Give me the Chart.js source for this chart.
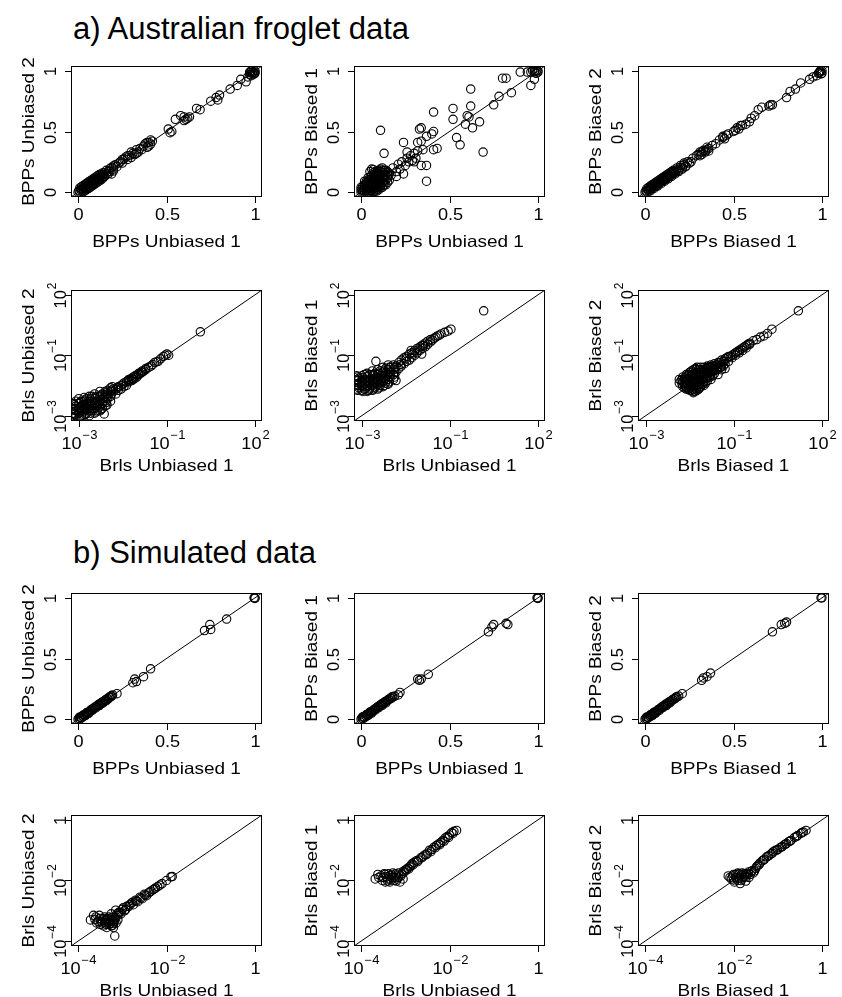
<!DOCTYPE html>
<html>
<head>
<meta charset="utf-8">
<script src="https://cdn.jsdelivr.net/npm/chart.js@4.4.1/dist/chart.umd.min.js"></script>
<style>
html, body { margin: 0; padding: 0; background: #fff; overflow: hidden; }
body { width: 842px; height: 997px; position: relative; }
canvas { position: absolute; }
.title { position: absolute; left: 73px; font-family: "Liberation Sans", Arial, sans-serif; font-size: 31px; line-height: 1; white-space: nowrap; color: #000; }
</style>
</head>
<body>
<div class="title" style="top: 13px;">a) Australian froglet data</div>
<div class="title" style="top: 537px;">b) Simulated data</div>
<script>
// Tick values and labels.
var linTicks = [ 0, 0.5, 1 ];
var linLabels = [ '0', '0.5', '1' ];
var logTicksA = [ 0.001, 0.316, 100 ];
var logLabelsA = [ [ '10', '−3' ], [ '10', '−1' ], [ '10', '2' ] ];
var logTicksB = [ 0.0001, 0.01, 1 ];
var logLabelsB = [ [ '10', '−4' ], [ '10', '−2' ], [ '1', '' ] ];
var linRange = [ -0.04, 1.04 ];
var logRangeA = [ 0.000631, 158.5 ];
var logRangeB = [ 0.0000692, 1.445 ];

// a) Australian froglet, BPPs (plain values).
var a1 = [
	[0,0],[0.005,0.012],[0.01,0],[0.015,0.022],[0.02,0.008],[0.025,0.03],[0.03,0.018],[0.035,0.042],[0.04,0.028],[0.045,0.052],
	[0.05,0.038],[0.055,0.062],[0.06,0.048],[0.065,0.072],[0.07,0.058],[0.075,0.082],[0.08,0.068],[0.085,0.092],[0.09,0.078],[0.095,0.1],
	[0.1,0.088],[0.105,0.112],[0.11,0.098],[0.115,0.12],[0.12,0.108],[0.125,0.132],[0.13,0.118],[0.14,0.142],[0.145,0.128],[0.15,0.158],
	[0.16,0.148],[0.17,0.172],[0.18,0.17],[0.19,0.15],[0.19,0.205],[0.2,0.19],[0.21,0.225],[0.22,0.21],
	[0.01,0.035],[0.02,0.045],[0.03,0.055],[0.04,0.065],[0.05,0.075],[0.06,0.085],[0.07,0.095],[0.08,0.105],[0.09,0.115],[0.1,0.125],
	[0.11,0.135],[0.12,0.145],[0.13,0.15],[0.14,0.16],[0.16,0.18],[0.18,0.195],[0.2,0.215],[0.03,0.005],[0.04,0.012],[0.05,0.022],
	[0.06,0.032],[0.07,0.042],[0.08,0.052],[0.09,0.062],[0.1,0.072],[0.11,0.082],[0.12,0.092],[0.13,0.102],[0.14,0.115],[0.15,0.13],
	[0.17,0.15],[0.2,0.175],
	[0.23,0.24],[0.24,0.25],[0.25,0.24],[0.25,0.27],[0.26,0.275],[0.27,0.29],[0.28,0.27],[0.28,0.3],[0.29,0.3],[0.3,0.285],[0.3,0.33],
	[0.31,0.32],[0.32,0.31],[0.33,0.35],[0.33,0.32],[0.34,0.33],[0.35,0.36],[0.36,0.35],[0.37,0.38],[0.38,0.4],[0.39,0.37],[0.39,0.41],
	[0.4,0.41],[0.4,0.38],[0.41,0.395],[0.41,0.43],[0.42,0.42],
	[0.51,0.52],[0.53,0.5],[0.52,0.49],[0.55,0.6],[0.58,0.63],[0.6,0.62],[0.61,0.6],[0.62,0.61],[0.63,0.62],[0.6,0.59],[0.69,0.68],[0.67,0.69],
	[0.75,0.75],[0.78,0.78],[0.8,0.8],[0.79,0.76],[0.86,0.85],[0.9,0.88],[0.92,0.93],[0.95,0.91],[0.96,0.95],[0.97,0.97],
	[0.98,0.96],[0.99,0.99],[1,1],[0.98,1],[1,0.98],[0.99,0.97],[0.97,0.99],[1,0.99],[0.985,0.985],[0.995,0.975],[0.975,0.985]
];
var a2 = [
	[0,0],[0,0.02],[0,0.04],[0.02,0],[0.02,0.03],[0.02,0.06],[0.02,0.09],
	[0.04,0],[0.04,0.03],[0.04,0.06],[0.04,0.09],[0.04,0.12],
	[0.06,0.01],[0.06,0.04],[0.06,0.07],[0.06,0.1],[0.06,0.14],[0.06,0.19],
	[0.08,0.01],[0.08,0.04],[0.08,0.07],[0.08,0.1],[0.08,0.13],[0.08,0.17],
	[0.1,0.02],[0.1,0.05],[0.1,0.08],[0.1,0.11],[0.1,0.14],[0.1,0.18],
	[0.12,0.04],[0.12,0.08],[0.12,0.12],[0.12,0.16],[0.12,0.2],
	[0.14,0.06],[0.14,0.1],[0.14,0.14],[0.14,0.18],[0.16,0.1],[0.16,0.15],
	[0.01,0.015],[0.01,0.035],[0.03,0.015],[0.03,0.045],[0.03,0.075],[0.05,0.015],[0.05,0.045],[0.05,0.075],[0.05,0.105],
	[0.07,0.025],[0.07,0.055],[0.07,0.085],[0.07,0.12],[0.07,0.16],[0.09,0.025],[0.09,0.055],[0.09,0.085],[0.09,0.12],[0.09,0.155],
	[0.11,0.035],[0.11,0.065],[0.11,0.095],[0.11,0.13],[0.11,0.17],[0.13,0.06],[0.13,0.1],[0.13,0.14],[0.13,0.18],
	[0.15,0.08],[0.15,0.12],[0.15,0.16],
	[0.01,0],[0.03,0],[0.05,0],[0.07,0.005],[0.09,0.01],[0.03,0.03],[0.05,0.03],[0.07,0.04],[0.09,0.04],[0.11,0.05],
	[0.01,0.05],[0.03,0.06],[0.05,0.06],[0.07,0.07],[0.09,0.07],[0.11,0.08],[0.13,0.08],[0.03,0.09],[0.05,0.09],[0.07,0.1],
	[0.09,0.1],[0.11,0.11],[0.13,0.12],[0.05,0.12],[0.07,0.13],[0.09,0.135],[0.11,0.145],[0.13,0.16],[0.07,0.145],[0.09,0.17],
	[0.11,0.19],[0.15,0.14],[0.05,0.17],[0.07,0.185],
	[0.15,0.17],[0.17,0.14],[0.18,0.2],[0.2,0.17],[0.21,0.23],[0.22,0.19],[0.23,0.25],[0.25,0.22],[0.26,0.28],[0.27,0.25],
	[0.28,0.3],[0.29,0.26],[0.3,0.32],[0.31,0.28],[0.32,0.34],[0.3,0.25],[0.2,0.13],[0.26,0.33],
	[0.11,0.51],[0.13,0.32],[0.24,0.41],[0.24,0.15],[0.32,0.41],[0.34,0.42],[0.33,0.52],[0.34,0.53],[0.35,0.35],
	[0.37,0.46],[0.41,0.5],[0.4,0.48],[0.43,0.36],[0.41,0.35],[0.37,0.22],[0.34,0.22],[0.37,0.09],[0.41,0.66],
	[0.52,0.69],[0.52,0.6],[0.54,0.45],[0.56,0.39],[0.59,0.56],[0.6,0.63],[0.61,0.62],[0.62,0.85],[0.62,0.71],[0.63,0.53],
	[0.67,0.58],[0.69,0.33],[0.75,0.72],[0.78,0.79],[0.85,0.82],[0.8,0.94],[0.82,0.94],[0.9,0.99],[0.94,0.99],[0.96,0.88],
	[0.98,0.93],[0.97,1],[0.98,0.99],[0.99,1],[1,1],[0.99,0.98],[1,0.99],[0.98,1],[0.96,0.99]
];
var a3 = [
	[0,0],[0.005,0.012],[0.01,0.002],[0.015,0.02],[0.02,0.01],[0.025,0.032],[0.03,0.02],[0.035,0.04],[0.04,0.03],[0.045,0.05],
	[0.05,0.042],[0.055,0.062],[0.06,0.05],[0.065,0.07],[0.07,0.06],[0.075,0.082],[0.08,0.072],[0.085,0.09],[0.09,0.082],[0.095,0.1],
	[0.1,0.092],[0.105,0.11],[0.11,0.1],[0.115,0.12],[0.12,0.11],[0.125,0.13],[0.13,0.122],[0.135,0.14],[0.14,0.132],[0.145,0.15],
	[0.15,0.14],[0.155,0.162],[0.16,0.152],[0.165,0.17],[0.17,0.16],[0.18,0.185],[0.19,0.18],[0.2,0.205],[0.21,0.2],[0.22,0.225],
	[0.23,0.215],[0.24,0.25],[0.25,0.24],
	[0.01,0.03],[0.02,0.04],[0.03,0.05],[0.04,0.06],[0.05,0.07],[0.06,0.08],[0.07,0.09],[0.08,0.1],[0.09,0.11],[0.1,0.12],
	[0.11,0.13],[0.12,0.14],[0.13,0.15],[0.14,0.16],[0.15,0.17],[0.16,0.18],[0.18,0.2],[0.2,0.22],[0.22,0.24],[0.03,0.01],
	[0.05,0.03],[0.07,0.05],[0.09,0.07],[0.11,0.09],[0.13,0.11],[0.15,0.13],[0.17,0.15],[0.19,0.17],[0.21,0.19],[0.23,0.21],
	[0.26,0.25],[0.27,0.28],[0.29,0.3],[0.3,0.31],[0.31,0.3],[0.31,0.33],[0.32,0.33],[0.32,0.31],[0.33,0.345],[0.34,0.33],
	[0.34,0.34],[0.35,0.35],[0.35,0.37],[0.36,0.34],[0.36,0.36],[0.38,0.385],[0.4,0.4],
	[0.42,0.43],[0.44,0.45],[0.44,0.46],[0.45,0.44],[0.46,0.47],[0.47,0.48],[0.5,0.5],[0.51,0.51],[0.52,0.53],[0.53,0.52],
	[0.54,0.55],[0.55,0.55],[0.57,0.56],[0.59,0.58],[0.6,0.61],[0.62,0.63],[0.64,0.68],[0.66,0.7],[0.7,0.71],[0.71,0.72],
	[0.72,0.72],[0.8,0.78],[0.82,0.83],[0.85,0.85],[0.88,0.9],[0.93,0.93],[0.95,0.95],[0.97,0.96],[0.98,0.98],[0.99,0.99],
	[1,1],[1,0.98],[0.99,1],[0.985,0.985],[0.995,0.975]
];

// a) Australian froglet, Brls (log10 values read off the axes).
var a4 = [
	[-3.15,-3.1],[-3.15,-2.9],[-3.15,-2.7],[-3.15,-2.5],
	[-3.0,-3.1],[-3.0,-2.9],[-3.0,-2.7],[-3.0,-2.5],[-3.0,-2.3],
	[-2.85,-3.0],[-2.85,-2.8],[-2.85,-2.6],[-2.85,-2.4],[-2.85,-2.25],
	[-2.7,-3.0],[-2.7,-2.8],[-2.7,-2.6],[-2.7,-2.4],[-2.7,-2.2],
	[-2.55,-2.9],[-2.55,-2.7],[-2.55,-2.5],[-2.55,-2.3],[-2.55,-2.1],
	[-2.4,-2.8],[-2.4,-2.6],[-2.4,-2.4],[-2.4,-2.2],[-2.4,-2.0],
	[-2.25,-2.6],[-2.25,-2.4],[-2.25,-2.2],[-2.25,-2.0],
	[-2.1,-2.4],[-2.1,-2.2],[-2.1,-2.0],[-2.1,-1.85],
	[-3.08,-3.0],[-3.08,-2.8],[-3.08,-2.6],[-3.08,-2.4],[-2.93,-3.0],[-2.93,-2.8],[-2.93,-2.6],[-2.93,-2.4],
	[-2.78,-2.9],[-2.78,-2.7],[-2.78,-2.5],[-2.78,-2.3],[-2.63,-2.8],[-2.63,-2.6],[-2.63,-2.4],[-2.63,-2.2],
	[-2.48,-2.8],[-2.48,-2.6],[-2.48,-2.4],[-2.48,-2.2],[-2.33,-2.7],[-2.33,-2.5],[-2.33,-2.3],[-2.33,-2.1],
	[-2.18,-2.3],[-2.18,-2.1],[-2.18,-1.95],
	[-3.12,-2.95],[-3.12,-2.75],[-3.12,-2.55],[-2.97,-3.05],[-2.97,-2.85],[-2.97,-2.65],[-2.97,-2.45],
	[-2.82,-2.95],[-2.82,-2.75],[-2.82,-2.55],[-2.82,-2.35],[-2.67,-2.9],[-2.67,-2.7],[-2.67,-2.5],[-2.67,-2.3],
	[-2.52,-2.85],[-2.52,-2.65],[-2.52,-2.45],[-2.52,-2.25],[-2.37,-2.75],[-2.37,-2.55],[-2.37,-2.35],[-2.37,-2.15],
	[-2.22,-2.45],[-2.22,-2.25],[-2.22,-2.05],[-2.07,-2.1],[-2.07,-1.95],
	[-2.28,-2.93],[-2.2,-2.55],[-2.05,-1.8],
	[-2.02,-2.0],[-2.02,-1.9],[-1.95,-2.1],[-1.95,-1.9],[-1.9,-1.85],[-1.88,-1.95],[-1.88,-1.8],[-1.8,-1.9],[-1.8,-1.75],[-1.75,-1.7],
	[-1.72,-1.8],[-1.72,-1.65],[-1.65,-1.75],[-1.65,-1.6],[-1.6,-1.55],[-1.58,-1.6],[-1.58,-1.5],[-1.5,-1.55],[-1.5,-1.45],
	[-1.48,-1.48],[-1.45,-1.5],[-1.45,-1.4],[-1.4,-1.45],[-1.4,-1.35],[-1.35,-1.4],[-1.35,-1.32],[-1.3,-1.3],[-1.3,-1.25],
	[-1.25,-1.25],[-1.22,-1.2],[-1.2,-1.2],[-1.2,-1.15],[-1.15,-1.15],
	[-1.1,-1.1],[-1.1,-1.05],[-1.02,-1.0],[-0.95,-0.95],[-0.9,-0.88],[-0.85,-0.8],[-0.8,-0.78],[-0.75,-0.75],[-0.68,-0.65],
	[-0.6,-0.55],[-0.55,-0.5],[-0.5,-0.45],[-0.45,-0.5],
	[0.45,0.47]
];
var a5 = [
	[-3.15,-1.9],[-3.15,-1.7],[-3.15,-1.5],[-3.15,-1.35],
	[-3.0,-1.95],[-3.0,-1.75],[-3.0,-1.55],[-3.0,-1.35],
	[-2.85,-2.0],[-2.85,-1.8],[-2.85,-1.6],[-2.85,-1.4],[-2.85,-1.25],
	[-2.7,-1.95],[-2.7,-1.75],[-2.7,-1.55],[-2.7,-1.35],[-2.7,-1.15],
	[-2.55,-1.9],[-2.55,-1.7],[-2.55,-1.5],[-2.55,-1.3],[-2.55,-1.1],
	[-2.4,-1.8],[-2.4,-1.6],[-2.4,-1.4],[-2.4,-1.2],[-2.4,-1.0],
	[-2.25,-1.7],[-2.25,-1.5],[-2.25,-1.3],[-2.25,-1.1],[-2.25,-0.9],
	[-2.1,-1.5],[-2.1,-1.3],[-2.1,-1.1],[-2.1,-0.9],
	[-3.08,-1.85],[-3.08,-1.65],[-3.08,-1.45],[-2.93,-1.9],[-2.93,-1.7],[-2.93,-1.5],[-2.93,-1.3],
	[-2.78,-1.9],[-2.78,-1.7],[-2.78,-1.5],[-2.78,-1.3],[-2.63,-1.85],[-2.63,-1.65],[-2.63,-1.45],[-2.63,-1.25],
	[-2.48,-1.75],[-2.48,-1.55],[-2.48,-1.35],[-2.48,-1.15],[-2.33,-1.65],[-2.33,-1.45],[-2.33,-1.25],[-2.33,-1.05],
	[-2.18,-1.4],[-2.18,-1.2],[-2.18,-1.0],
	[-3.12,-1.95],[-3.12,-1.75],[-3.12,-1.55],[-3.12,-1.4],[-2.97,-2.0],[-2.97,-1.8],[-2.97,-1.6],[-2.97,-1.42],
	[-2.82,-1.95],[-2.82,-1.75],[-2.82,-1.55],[-2.82,-1.35],[-2.67,-1.9],[-2.67,-1.7],[-2.67,-1.5],[-2.67,-1.3],
	[-2.52,-1.85],[-2.52,-1.65],[-2.52,-1.45],[-2.52,-1.25],[-2.37,-1.75],[-2.37,-1.55],[-2.37,-1.35],[-2.37,-1.15],
	[-2.22,-1.6],[-2.22,-1.4],[-2.22,-1.2],[-2.22,-1.0],[-2.07,-1.4],[-2.07,-1.2],[-2.07,-1.0],
	[-2.6,-0.75],[-2.03,-1.55],[-2.27,-1.68],
	[-2.03,-1.2],[-2.03,-0.95],[-1.95,-1.05],[-1.95,-0.8],[-1.9,-0.88],[-1.88,-0.95],[-1.88,-0.7],[-1.8,-0.85],[-1.8,-0.6],[-1.75,-0.65],
	[-1.73,-0.75],[-1.73,-0.55],[-1.65,-0.7],[-1.65,-0.45],[-1.58,-0.6],[-1.58,-0.4],[-1.55,-0.45],[-1.5,-0.5],[-1.5,-0.3],
	[-1.43,-0.4],[-1.43,-0.22],[-1.4,-0.28],[-1.35,-0.3],[-1.35,-0.15],[-1.28,-0.22],[-1.28,-0.08],[-1.25,-0.1],[-1.2,-0.15],[-1.2,0.0],
	[-1.13,-0.05],[-1.13,0.08],[-1.05,0.05],[-1.05,0.15],
	[-1.6,-0.3],[-1.3,-0.45],[-1.0,0.12],[-0.9,0.25],[-0.8,0.33],
	[-0.95,0.2],[-0.85,0.3],[-0.75,0.38],[-0.65,0.45],[-0.55,0.5],[-0.47,0.58],
	[0.46,1.34]
];
var a6 = [
	[-2.05,-1.5],[-2.05,-1.65],
	[-1.95,-1.4],[-1.95,-1.6],[-1.95,-1.8],
	[-1.85,-1.3],[-1.85,-1.5],[-1.85,-1.7],[-1.85,-1.9],
	[-1.75,-1.2],[-1.75,-1.4],[-1.75,-1.6],[-1.75,-1.8],[-1.75,-1.95],
	[-1.65,-1.1],[-1.65,-1.3],[-1.65,-1.5],[-1.65,-1.7],[-1.65,-1.9],[-1.65,-2.05],
	[-1.55,-1.0],[-1.55,-1.2],[-1.55,-1.4],[-1.55,-1.6],[-1.55,-1.8],[-1.55,-1.95],
	[-1.45,-1.0],[-1.45,-1.2],[-1.45,-1.4],[-1.45,-1.6],[-1.45,-1.8],
	[-1.35,-1.0],[-1.35,-1.2],[-1.35,-1.4],[-1.35,-1.6],[-1.35,-1.75],
	[-1.25,-0.95],[-1.25,-1.15],[-1.25,-1.35],[-1.25,-1.55],
	[-1.15,-0.9],[-1.15,-1.1],[-1.15,-1.3],[-1.15,-1.5],
	[-1.05,-0.85],[-1.05,-1.05],[-1.05,-1.25],
	[-0.95,-0.8],[-0.95,-1.0],[-0.95,-1.3],
	[-0.85,-0.7],[-0.85,-0.9],[-0.85,-1.1],
	[-0.75,-0.65],[-0.75,-0.85],[-0.75,-1.05],
	[-2.0,-1.55],[-1.9,-1.45],[-1.9,-1.65],[-1.9,-1.85],[-1.8,-1.3],[-1.8,-1.5],[-1.8,-1.7],[-1.8,-1.9],
	[-1.7,-1.15],[-1.7,-1.35],[-1.7,-1.55],[-1.7,-1.75],[-1.7,-1.95],[-1.6,-1.05],[-1.6,-1.25],[-1.6,-1.45],[-1.6,-1.65],[-1.6,-1.85],[-1.6,-2.0],
	[-1.5,-1.1],[-1.5,-1.3],[-1.5,-1.5],[-1.5,-1.7],[-1.5,-1.9],[-1.4,-1.1],[-1.4,-1.3],[-1.4,-1.5],[-1.4,-1.7],
	[-1.3,-1.05],[-1.3,-1.25],[-1.3,-1.45],[-1.3,-1.65],[-1.2,-1.0],[-1.2,-1.2],[-1.2,-1.4],[-1.1,-0.95],[-1.1,-1.15],[-1.1,-1.35],
	[-1.0,-0.9],[-1.0,-1.1],[-0.9,-0.8],[-0.9,-1.0],[-0.8,-0.75],[-0.8,-0.95],
	[-1.97,-1.5],[-1.97,-1.7],[-1.87,-1.4],[-1.87,-1.6],[-1.87,-1.8],[-1.77,-1.3],[-1.77,-1.5],[-1.77,-1.7],[-1.77,-1.9],
	[-1.67,-1.2],[-1.67,-1.4],[-1.67,-1.6],[-1.67,-1.8],[-1.67,-2.0],[-1.57,-1.1],[-1.57,-1.3],[-1.57,-1.5],[-1.57,-1.7],[-1.57,-1.9],
	[-1.47,-1.1],[-1.47,-1.3],[-1.47,-1.5],[-1.47,-1.7],[-1.47,-1.85],[-1.37,-1.1],[-1.37,-1.3],[-1.37,-1.5],[-1.37,-1.7],
	[-1.27,-1.05],[-1.27,-1.25],[-1.27,-1.45],[-1.17,-1.0],[-1.17,-1.2],[-1.17,-1.4],[-1.07,-0.95],[-1.07,-1.15],
	[-0.97,-0.9],[-0.97,-1.1],[-0.87,-0.8],[-0.87,-1.0],[-0.77,-0.75],
	[-0.7,-0.6],[-0.65,-0.55],[-0.65,-0.75],[-0.6,-0.55],[-0.55,-0.5],[-0.55,-0.6],[-0.5,-0.45],[-0.45,-0.4],[-0.45,-0.5],
	[-0.4,-0.35],[-0.35,-0.3],[-0.35,-0.4],[-0.3,-0.25],[-0.25,-0.2],[-0.25,-0.3],[-0.2,-0.15],[-0.15,-0.1],[-0.15,-0.2],
	[-0.1,-0.05],[-0.05,0.0],[-0.05,-0.05],
	[0.05,0.1],[0.15,0.15],[0.25,0.25],[0.35,0.3],[0.45,0.4],[0.58,0.58],
	[1.33,1.34]
];

// b) Simulated data, BPPs (plain values).
var b1 = [
	[0,0],[0.005,0.008],[0.01,0.002],[0.015,0.015],[0.02,0.01],[0.025,0.025],[0.03,0.022],[0.035,0.035],[0.04,0.032],[0.045,0.045],
	[0.05,0.042],[0.055,0.055],[0.06,0.055],[0.065,0.065],[0.07,0.068],[0.08,0.078],[0.085,0.088],[0.09,0.09],[0.1,0.098],[0.105,0.108],
	[0.11,0.112],[0.12,0.118],[0.125,0.13],[0.13,0.128],[0.14,0.14],[0.145,0.148],[0.15,0.15],[0.16,0.158],[0.165,0.17],[0.17,0.168],
	[0.18,0.18],[0.185,0.19],[0.19,0.19],
	[0.01,0.018],[0.03,0.035],[0.05,0.055],[0.075,0.08],[0.095,0.1],[0.115,0.12],[0.135,0.14],[0.155,0.16],[0.175,0.18],[0.195,0.2],
	[0.04,0.028],[0.06,0.048],[0.08,0.072],[0.1,0.092],[0.12,0.112],[0.14,0.132],[0.16,0.152],
	[0.22,0.21],[0.31,0.3],[0.32,0.33],[0.33,0.31],[0.37,0.35],[0.41,0.415],[0.715,0.73],[0.745,0.78],[0.75,0.74],[0.84,0.825],
	[0.995,1],[1,1],[1,0.995]
];
var b2 = [
	[0,0],[0.005,0.01],[0.01,0.004],[0.015,0.018],[0.02,0.012],[0.025,0.028],[0.03,0.024],[0.035,0.038],[0.04,0.036],[0.045,0.048],
	[0.05,0.046],[0.055,0.058],[0.06,0.058],[0.065,0.068],[0.07,0.072],[0.08,0.082],[0.085,0.09],[0.09,0.094],[0.1,0.102],[0.105,0.112],
	[0.11,0.114],[0.12,0.122],[0.125,0.132],[0.13,0.132],[0.14,0.144],[0.145,0.15],[0.15,0.154],[0.16,0.162],[0.165,0.172],[0.17,0.172],
	[0.18,0.182],[0.19,0.19],
	[0.01,0.02],[0.03,0.038],[0.05,0.058],[0.075,0.082],[0.095,0.104],[0.115,0.124],[0.135,0.144],[0.155,0.164],[0.175,0.184],
	[0.04,0.03],[0.06,0.05],[0.08,0.074],[0.1,0.094],[0.12,0.114],[0.14,0.134],
	[0.21,0.2],[0.22,0.22],[0.32,0.33],[0.33,0.32],[0.34,0.33],[0.38,0.37],[0.72,0.72],[0.74,0.76],[0.75,0.78],[0.82,0.79],[0.83,0.78],
	[1,1],[0.995,1],[1,0.995]
];
var b3 = [
	[0,0],[0.005,0.008],[0.01,0.003],[0.015,0.016],[0.02,0.012],[0.025,0.026],[0.03,0.024],[0.035,0.036],[0.04,0.034],[0.045,0.046],
	[0.05,0.044],[0.055,0.056],[0.06,0.056],[0.065,0.066],[0.07,0.07],[0.08,0.08],[0.085,0.088],[0.09,0.092],[0.1,0.1],[0.105,0.11],
	[0.11,0.112],[0.12,0.12],[0.125,0.13],[0.13,0.13],[0.14,0.142],[0.145,0.148],[0.15,0.152],[0.16,0.16],[0.165,0.17],[0.17,0.17],
	[0.18,0.182],[0.19,0.19],
	[0.01,0.018],[0.03,0.036],[0.05,0.056],[0.075,0.08],[0.095,0.102],[0.115,0.122],[0.135,0.142],[0.155,0.162],[0.175,0.182],
	[0.04,0.028],[0.06,0.05],[0.08,0.072],[0.1,0.094],[0.12,0.112],[0.14,0.134],
	[0.21,0.21],[0.32,0.32],[0.33,0.34],[0.35,0.35],[0.37,0.38],[0.72,0.72],[0.77,0.78],[0.79,0.79],[0.8,0.8],[1,1],[0.995,1]
];

// b) Simulated data, Brls (log10 values read off the axes).
var b4 = [
	[-3.72,-3.3],[-3.65,-3.15],[-3.6,-3.2],[-3.55,-3.35],[-3.5,-3.25],[-3.5,-3.45],[-3.45,-3.3],[-3.42,-3.5],[-3.4,-3.2],[-3.38,-3.4],
	[-3.35,-3.3],[-3.35,-3.55],[-3.3,-3.45],[-3.3,-3.2],[-3.28,-3.35],[-3.25,-3.5],[-3.25,-3.1],[-3.22,-3.3],[-3.2,-3.42],[-3.18,-3.2],
	[-3.62,-3.28],[-3.58,-3.4],[-3.52,-3.15],[-3.48,-3.35],[-3.45,-3.4],[-3.42,-3.25],[-3.38,-3.3],[-3.36,-3.45],[-3.33,-3.25],[-3.32,-3.38],
	[-3.28,-3.28],[-3.27,-3.42],[-3.24,-3.22],[-3.22,-3.48],[-3.2,-3.3],[-3.18,-3.35],[-3.15,-3.2],[-3.14,-3.4],[-3.1,-3.15],[-3.08,-3.05],
	[-3.17,-3.83],[-3.2,-3.55],[-3.15,-2.98],[-3.12,-3.1],[-3.1,-3.3],[-3.05,-3.05],[-3.03,-3.1],[-3.0,-2.95],[-2.98,-2.9],[-2.95,-3.0],
	[-2.92,-2.95],[-2.9,-2.85],[-2.85,-2.85],[-2.83,-2.8],[-2.8,-2.75],[-2.77,-2.72],[-2.75,-2.8],[-2.7,-2.65],[-2.68,-2.68],[-2.65,-2.7],
	[-2.6,-2.55],[-2.58,-2.58],[-2.55,-2.6],[-2.5,-2.45],[-2.48,-2.48],[-2.45,-2.5],[-2.4,-2.4],[-2.38,-2.38],[-2.35,-2.35],[-2.3,-2.3],
	[-2.28,-2.28],[-2.25,-2.25],[-2.2,-2.2],[-2.15,-2.15],[-2.1,-2.1],[-2.0,-2.0],[-1.87,-1.87],[-1.9,-1.88]
];
var b5 = [
	[-3.68,-1.95],[-3.62,-1.8],[-3.5,-1.9],[-3.45,-2.05],[-3.45,-1.8],[-3.4,-1.95],[-3.35,-1.85],[-3.35,-2.05],[-3.3,-1.9],[-3.28,-1.75],
	[-3.25,-2.0],[-3.2,-1.85],[-3.18,-1.95],[-3.15,-1.75],[-3.12,-2.05],[-3.1,-1.85],[-3.05,-1.7],[-3.0,-1.65],[-2.95,-1.6],[-2.9,-1.55],
	[-3.6,-1.9],[-3.55,-1.85],[-3.52,-2.0],[-3.48,-1.78],[-3.42,-1.88],[-3.4,-2.02],[-3.38,-1.78],[-3.32,-1.98],[-3.3,-1.82],[-3.25,-1.9],
	[-3.22,-1.78],[-3.2,-2.02],[-3.15,-1.9],[-3.08,-1.78],[-3.05,-1.95],[-3.02,-1.72],[-2.97,-1.65],[-2.92,-1.62],[-2.87,-1.52],[-2.82,-1.48],
	[-2.85,-1.45],[-2.8,-1.4],[-2.75,-1.35],[-2.72,-1.38],[-2.7,-1.32],[-2.65,-1.25],[-2.62,-1.25],[-2.6,-1.2],[-2.55,-1.15],[-2.52,-1.15],
	[-2.5,-1.1],[-2.45,-1.0],[-2.42,-1.05],[-2.4,-0.98],[-2.35,-0.9],[-2.32,-0.92],[-2.3,-0.85],[-2.25,-0.8],[-2.22,-0.82],[-2.2,-0.75],
	[-2.15,-0.68],[-2.12,-0.7],[-2.1,-0.6],[-2.05,-0.55],[-2.02,-0.58],[-2.0,-0.5],[-1.95,-0.42],[-1.92,-0.45],[-1.9,-0.38],[-1.84,-0.35]
];
var b6 = [
	[-2.12,-1.85],[-2.05,-1.95],[-2.0,-1.8],[-1.98,-2.05],[-1.95,-1.9],[-1.9,-1.75],[-1.9,-2.0],[-1.85,-1.85],[-1.85,-2.1],[-1.8,-1.95],
	[-1.8,-1.75],[-1.75,-1.85],[-1.72,-2.02],[-1.7,-1.78],[-1.65,-1.9],[-1.6,-1.7],[-1.55,-1.75],[-1.5,-1.6],[-1.45,-1.5],[-1.4,-1.42],
	[-2.08,-1.9],[-2.02,-1.85],[-2.0,-1.98],[-1.95,-1.8],[-1.92,-1.95],[-1.88,-1.78],[-1.88,-1.92],[-1.83,-2.0],[-1.82,-1.8],[-1.78,-1.9],
	[-1.76,-1.78],[-1.72,-1.88],[-1.68,-1.8],[-1.66,-1.72],[-1.62,-1.8],[-1.58,-1.68],[-1.52,-1.68],[-1.48,-1.55],[-1.42,-1.48],
	[-1.35,-1.35],[-1.32,-1.32],[-1.3,-1.3],[-1.25,-1.22],[-1.22,-1.2],[-1.2,-1.18],[-1.15,-1.12],[-1.12,-1.1],[-1.1,-1.05],[-1.05,-1.0],
	[-1.02,-1.0],[-1.0,-0.98],[-0.95,-0.92],[-0.92,-0.9],[-0.9,-0.88],[-0.85,-0.82],[-0.82,-0.8],[-0.8,-0.78],[-0.75,-0.72],[-0.72,-0.7],
	[-0.7,-0.68],[-0.62,-0.58],[-0.58,-0.55],[-0.55,-0.52],[-0.48,-0.45],[-0.45,-0.42],[-0.42,-0.4],[-0.36,-0.35]
];

var FONT = '"Liberation Sans", Arial, sans-serif';
var boxLeft = [ 71, 354, 638 ];
var boxTop = [ 66, 290, 593, 815 ];

var panels = [
	{ col: 0, row: 0, kind: 'A', pts: a1, xTitle: 'BPPs Unbiased 1', yTitle: 'BPPs Unbiased 2' },
	{ col: 1, row: 0, kind: 'A', pts: a2, xTitle: 'BPPs Unbiased 1', yTitle: 'BPPs Biased 1' },
	{ col: 2, row: 0, kind: 'A', pts: a3, xTitle: 'BPPs Biased 1', yTitle: 'BPPs Biased 2' },
	{ col: 0, row: 1, kind: 'logA', pts: a4, xTitle: 'Brls Unbiased 1', yTitle: 'Brls Unbiased 2' },
	{ col: 1, row: 1, kind: 'logA', pts: a5, xTitle: 'Brls Unbiased 1', yTitle: 'Brls Biased 1' },
	{ col: 2, row: 1, kind: 'logA', pts: a6, xTitle: 'Brls Biased 1', yTitle: 'Brls Biased 2' },
	{ col: 0, row: 2, kind: 'A', pts: b1, xTitle: 'BPPs Unbiased 1', yTitle: 'BPPs Unbiased 2' },
	{ col: 1, row: 2, kind: 'A', pts: b2, xTitle: 'BPPs Unbiased 1', yTitle: 'BPPs Biased 1' },
	{ col: 2, row: 2, kind: 'A', pts: b3, xTitle: 'BPPs Biased 1', yTitle: 'BPPs Biased 2' },
	{ col: 0, row: 3, kind: 'logB', pts: b4, xTitle: 'Brls Unbiased 1', yTitle: 'Brls Unbiased 2' },
	{ col: 1, row: 3, kind: 'logB', pts: b5, xTitle: 'Brls Unbiased 1', yTitle: 'Brls Biased 1' },
	{ col: 2, row: 3, kind: 'logB', pts: b6, xTitle: 'Brls Biased 1', yTitle: 'Brls Biased 2' }
];

// Text with an optional superscript, centred on (x, y) baseline.
function drawLabel( ctx, x, y, lab, rotate, size, stretch ) {
	var base = Array.isArray( lab ) ? lab[0] : lab;
	var exp = Array.isArray( lab ) ? lab[1] : '';
	var es = size * 0.72;
	var gap = size * 0.05;
	ctx.save();
	ctx.translate( x, y );
	if ( rotate ) {
		ctx.rotate( -Math.PI / 2 );
	}
	ctx.scale( stretch, 1 );
	ctx.textAlign = 'left';
	ctx.textBaseline = 'alphabetic';
	ctx.font = size + 'px ' + FONT;
	var wb = ctx.measureText( base ).width;
	ctx.font = es + 'px ' + FONT;
	var we = exp ? ctx.measureText( exp ).width + gap : 0;
	var x0 = -( wb + we ) / 2;
	ctx.font = size + 'px ' + FONT;
	ctx.fillText( base, x0, 0 );
	if ( exp ) {
		ctx.font = es + 'px ' + FONT;
		ctx.fillText( exp, x0 + wb + gap, -size * 0.6 );
	}
	ctx.restore();
}

// R style box, ticks and labels.
var rAxes = {
	id: 'rAxes',
	afterDraw: function ( chart, args, o ) {
		var ctx = chart.ctx;
		var a = chart.chartArea;
		var xs = chart.scales.x;
		var ys = chart.scales.y;
		ctx.save();
		ctx.strokeStyle = '#000';
		ctx.fillStyle = '#000';
		ctx.lineWidth = 1;
		ctx.strokeRect( a.left + 0.5, a.top + 0.5, a.right - a.left - 1, a.bottom - a.top - 1 );
		o.ticks.forEach( function ( v, i ) {
			var px = Math.round( xs.getPixelForValue( v ) ) + 0.5;
			var py = Math.round( ys.getPixelForValue( v ) ) + 0.5;
			ctx.beginPath();
			ctx.moveTo( px, a.bottom );
			ctx.lineTo( px, a.bottom + 6 );
			ctx.moveTo( a.left, py );
			ctx.lineTo( a.left - 6, py );
			ctx.stroke();
			drawLabel( ctx, px, a.bottom + ( o.log ? 28 : 23 ), o.labels[i], false, 16.5, 1.1 );
			drawLabel( ctx, a.left - ( o.log ? 5 : 15 ), py, o.labels[i], true, 16.5, 1.0 );
		} );
		drawLabel( ctx, ( a.left + a.right ) / 2, a.bottom + 50, o.xTitle, false, 16.5, 1.15 );
		drawLabel( ctx, a.left - 37, ( a.top + a.bottom ) / 2, o.yTitle, true, 16.5, 1.15 );
		ctx.restore();
	}
};

var PAD = { left: 72, top: 14, right: 12, bottom: 56 };

panels.forEach( function ( p ) {
	var isLog = p.kind !== 'A';
	var range = p.kind === 'A' ? linRange : ( p.kind === 'logA' ? logRangeA : logRangeB );
	var ticks = p.kind === 'A' ? linTicks : ( p.kind === 'logA' ? logTicksA : logTicksB );
	var labels = p.kind === 'A' ? linLabels : ( p.kind === 'logA' ? logLabelsA : logLabelsB );

	var cv = document.createElement( 'canvas' );
	cv.width = PAD.left + 191 + PAD.right;
	cv.height = PAD.top + 131 + PAD.bottom;
	cv.style.left = ( boxLeft[ p.col ] - PAD.left ) + 'px';
	cv.style.top = ( boxTop[ p.row ] - PAD.top ) + 'px';
	document.body.appendChild( cv );

	var data = p.pts.map( function ( d ) {
		return isLog ? { x: Math.pow( 10, d[0] ), y: Math.pow( 10, d[1] ) } : { x: d[0], y: d[1] };
	} );
	var diag = [ { x: range[0], y: range[0] }, { x: range[1], y: range[1] } ];

	new Chart( cv.getContext( '2d' ), {
		type: 'scatter',
		data: {
			datasets: [ {
				type: 'line',
				data: diag,
				borderColor: '#000',
				borderWidth: 1,
				pointRadius: 0,
				clip: 0
			}, {
				data: data,
				pointRadius: 4.2,
				pointBorderWidth: 1.1,
				pointBorderColor: '#000',
				pointBackgroundColor: 'rgba(0,0,0,0)',
				clip: 0
			} ]
		},
		options: {
			responsive: false,
			animation: false,
			devicePixelRatio: 1,
			events: [],
			layout: { padding: PAD },
			plugins: {
				legend: { display: false },
				tooltip: { enabled: false },
				rAxes: { log: isLog, ticks: ticks, labels: labels, xTitle: p.xTitle, yTitle: p.yTitle }
			},
			scales: {
				x: { type: isLog ? 'logarithmic' : 'linear', min: range[0], max: range[1], display: false },
				y: { type: isLog ? 'logarithmic' : 'linear', min: range[0], max: range[1], display: false }
			}
		},
		plugins: [ rAxes ]
	} );
} );
</script>
</body>
</html>
